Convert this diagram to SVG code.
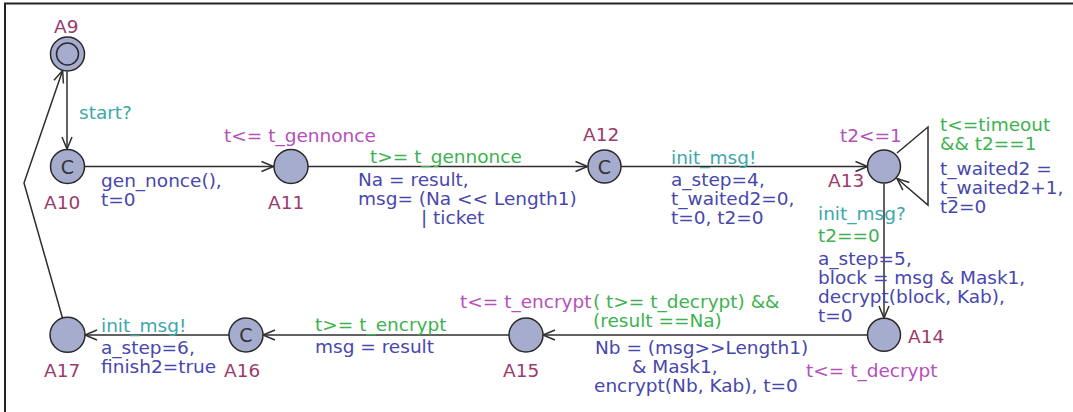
<svg xmlns="http://www.w3.org/2000/svg" width="1073" height="412" viewBox="0 0 1073 412">
  <style>
    text { font-family: "DejaVu Sans", "Liberation Sans", sans-serif; font-size: 18.5px; }
    .name { fill: #9c3a6c; }
    .inv { fill: #b64fba; }
    .sync { fill: #3ea8aa; }
    .guard { fill: #3db24f; }
    .upd { fill: #4747ad; }
    .loc { fill: #a5accd; stroke: #2a2a2a; stroke-width: 1.5; }
    .inner { fill: none; stroke: #2a2a2a; stroke-width: 1.5; }
    .cmark { fill: #333; font-size: 19px; text-anchor: middle; }
    .edge { fill: none; stroke: #2e2e2e; stroke-width: 1.5; marker-end: url(#arrow); }
  </style>
  <defs>
    <marker id="arrow" markerUnits="userSpaceOnUse" viewBox="-14 -7 16 14" markerWidth="16" markerHeight="14" refX="0" refY="0" orient="auto">
      <path d="M-12,-5 L0,0 L-12,5" fill="none" stroke="#2e2e2e" stroke-width="1.5"/>
    </marker>
  </defs>
  <rect width="1073" height="412" fill="#fff"/>
  <!-- frame -->
  <path d="M5,412 V3.5 H1073" fill="none" stroke="#222" stroke-width="2"/>

  <g id="connectors">
    <path class="edge" d="M67,71.5 L67,149"/>
    <path class="edge" d="M85,166.5 L273.5,166.5"/>
    <path class="edge" d="M308,166.5 L587.5,166.5"/>
    <path class="edge" d="M621,166.5 L867.5,166.5"/>
    <path class="edge" d="M897,153 L928,127 L928,205 L897,178.5"/>
    <path class="edge" d="M884,183.5 L884,318"/>
    <path class="edge" d="M867.5,335 L543,335"/>
    <path class="edge" d="M509.5,335 L263,335"/>
    <path class="edge" d="M229,335 L85,335"/>
    <path class="edge" d="M62.5,318 L24,183 L62.6,70.5"/>
  </g>

  <!-- edge labels -->
  <g id="edge-labels">
    <text class="sync" x="79" y="119">start?</text>
    <text class="upd" x="101" y="187">gen_nonce(),</text>
    <text class="upd" x="101" y="206">t=0</text>

    <text class="guard" x="370" y="163">t&gt;= t_gennonce</text>
    <text class="upd" x="358" y="186">Na = result,</text>
    <text class="upd" x="358" y="205">msg= (Na &lt;&lt; Length1)</text>
    <text class="upd" x="421" y="224">| ticket</text>

    <text class="sync" x="671" y="164">init_msg!</text>
    <text class="upd" x="671" y="185.5">a_step=4,</text>
    <text class="upd" x="671" y="204.5">t_waited2=0,</text>
    <text class="upd" x="671" y="223.5">t=0, t2=0</text>

    <text class="guard" x="940" y="131">t&lt;=timeout</text>
    <text class="guard" x="940" y="150">&amp;&amp; t2==1</text>
    <text class="upd" x="940" y="174.5">t_waited2 =</text>
    <text class="upd" x="940" y="193.5">t_waited2+1,</text>
    <text class="upd" x="940" y="212.5">t2=0</text>

    <text class="sync" x="818" y="220">init_msg?</text>
    <text class="guard" x="818" y="242">t2==0</text>
    <text class="upd" x="818" y="265">a_step=5,</text>
    <text class="upd" x="818" y="284">block = msg &amp; Mask1,</text>
    <text class="upd" x="818" y="303">decrypt(block, Kab),</text>
    <text class="upd" x="818" y="322">t=0</text>

    <text class="guard" x="593" y="308">( t&gt;= t_decrypt) &amp;&amp;</text>
    <text class="guard" x="593" y="327">(result ==Na)</text>
    <text class="upd" x="595" y="354">Nb = (msg&gt;&gt;Length1)</text>
    <text class="upd" x="632" y="373">&amp; Mask1,</text>
    <text class="upd" x="594" y="392">encrypt(Nb, Kab), t=0</text>

    <text class="guard" x="315" y="331">t&gt;= t_encrypt</text>
    <text class="upd" x="315" y="353">msg = result</text>

    <text class="sync" x="101" y="332">init_msg!</text>
    <text class="upd" x="101" y="354">a_step=6,</text>
    <text class="upd" x="101" y="373">finish2=true</text>
  </g>

  <g id="A9">
    <circle class="loc" cx="67.5" cy="54" r="17"/>
    <circle class="inner" cx="67.5" cy="54" r="11"/>
    <text class="name" x="54" y="33">A9</text>
  </g>
  <g id="A10">
    <circle class="loc" cx="67.5" cy="166.5" r="17"/>
    <text class="cmark" x="67.5" y="173.5">C</text>
    <text class="name" x="44" y="208.5">A10</text>
  </g>
  <g id="A11">
    <circle class="loc" cx="291" cy="166.5" r="17"/>
    <text class="inv" x="224" y="142">t&lt;= t_gennonce</text>
    <text class="name" x="268" y="208.5">A11</text>
  </g>
  <g id="A12">
    <circle class="loc" cx="604.5" cy="166.5" r="16.5"/>
    <text class="cmark" x="604.5" y="173.5">C</text>
    <text class="name" x="583" y="140.5">A12</text>
  </g>
  <g id="A13">
    <circle class="loc" cx="884" cy="166.5" r="16.5"/>
    <text class="inv" x="840" y="141.5">t2&lt;=1</text>
    <text class="name" x="828" y="186.5">A13</text>
  </g>
  <g id="A14">
    <circle class="loc" cx="884" cy="334.8" r="16.5"/>
    <text class="name" x="908" y="342.5">A14</text>
    <text class="inv" x="806" y="376.5">t&lt;= t_decrypt</text>
  </g>
  <g id="A15">
    <circle class="loc" cx="526" cy="335" r="17"/>
    <text class="inv" x="460" y="308">t&lt;= t_encrypt</text>
    <text class="name" x="503" y="377">A15</text>
  </g>
  <g id="A16">
    <circle class="loc" cx="246" cy="335" r="17"/>
    <text class="cmark" x="246" y="342">C</text>
    <text class="name" x="224" y="377">A16</text>
  </g>
  <g id="A17">
    <circle class="loc" cx="67.5" cy="334.8" r="17.5"/>
    <text class="name" x="44" y="377">A17</text>
  </g>
</svg>
